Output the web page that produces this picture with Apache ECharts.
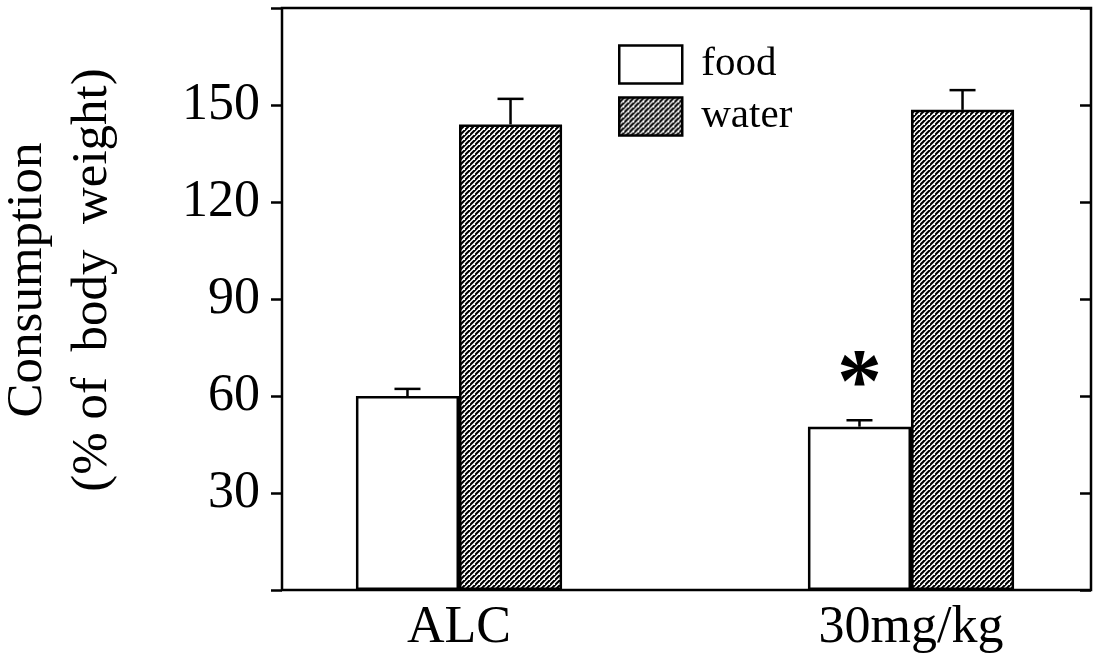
<!DOCTYPE html>
<html>
<head>
<meta charset="utf-8">
<script src="https://cdn.jsdelivr.net/npm/echarts@6/dist/echarts.min.js"></script>
<style>html,body{margin:0;padding:0;background:#fff;}#c{width:1098px;height:663px;}</style>
</head>
<body>
<div id="c"></div>
<script>
const categories = ['ALC', '30mg/kg'];
const seriesNames = ['food', 'water'];
const foodMean = [60, 50.5];
const foodErr = [2.2, 2];
const waterMean = [144, 148.5];
const waterErr = [7.9, 6.1];
const significant = [false, true];
const yTicks = [30, 60, 90, 120, 150];

const FONT = 'Liberation Serif';
const BAR_FRAC = 0.228;

function hatch() {
  const s = 5;
  const c = document.createElement('canvas');
  c.width = s; c.height = s;
  const g = c.getContext('2d');
  g.fillStyle = '#fff'; g.fillRect(0, 0, s, s);
  g.strokeStyle = '#000'; g.lineWidth = 2.1;
  g.beginPath();
  g.moveTo(-1, s + 1); g.lineTo(s + 1, -1);
  g.moveTo(-1 - s, s + 1); g.lineTo(1, -1);
  g.moveTo(s - 1, 2 * s + 1); g.lineTo(2 * s + 1, s - 1);
  g.stroke();
  return c;
}
const hatchColor = { image: hatch(), repeat: 'repeat' };

const errData = [];
categories.forEach((c, i) => {
  errData.push([i, foodMean[i], foodErr[i], -1]);
  errData.push([i, waterMean[i], waterErr[i], 1]);
});

const foodData = foodMean.map((v, i) => significant[i] ? {
  value: v,
  label: { show: true, formatter: '*', position: 'top', distance: -6,
    fontSize: 90, fontWeight: 'bold', fontFamily: FONT, color: '#000' }
} : v);

const chart = echarts.init(document.getElementById('c'), null, { renderer: 'canvas' });
chart.setOption({
  animation: false,
  backgroundColor: '#fff',
  grid: [
    { left: 282, right: 7, top: 8, bottom: 73, show: true, borderColor: '#000', borderWidth: 2.5,
      backgroundColor: 'transparent', outerBoundsMode: 'none', containLabel: false },
    { left: 233, width: 904, top: 8, bottom: 73, show: false, outerBoundsMode: 'none', containLabel: false }
  ],
  legend: {
    data: seriesNames,
    orient: 'vertical',
    left: 618, top: 44, padding: 0,
    icon: 'rect',
    itemWidth: 63, itemHeight: 38, itemGap: 11,
    textStyle: { fontFamily: FONT, fontSize: 41, color: '#000', padding: [0, 0, 0, 14] },
    itemStyle: { borderColor: '#000', borderWidth: 2.5 }
  },
  xAxis: [
    { type: 'category', gridIndex: 0, data: categories, axisLine: { show: false }, axisTick: { show: false }, axisLabel: { show: false } },
    { type: 'category', gridIndex: 1, data: categories, axisLine: { show: false }, axisTick: { show: false },
      axisLabel: { fontFamily: FONT, fontSize: 52, color: '#000', margin: 12 } }
  ],
  yAxis: [
    { type: 'value', gridIndex: 0, min: 0, max: 180, interval: 30, splitLine: { show: false },
      axisLine: { show: false },
      axisTick: { show: true, length: 11, lineStyle: { color: '#000', width: 2.5 } },
      axisLabel: { fontFamily: FONT, fontSize: 52, color: '#000', margin: 22,
        formatter: v => yTicks.indexOf(v) >= 0 ? String(v) : '' },
      name: 'Consumption\n(% of  body  weight)',
      nameLocation: 'middle', nameRotate: 90, nameGap: 157,
      nameTextStyle: { fontFamily: FONT, fontSize: 51, lineHeight: 65, color: '#000', padding: [0, 0, 0, 38] }
    },
    { type: 'value', gridIndex: 0, min: 0, max: 180, interval: 30, splitLine: { show: false },
      axisLine: { show: false }, axisLabel: { show: false },
      axisTick: { show: true, inside: true, length: 11, lineStyle: { color: '#000', width: 2.5 } } },
    { type: 'value', gridIndex: 1, min: 0, max: 180, interval: 30, show: false }
  ],
  series: [
    { name: 'food', type: 'bar', xAxisIndex: 1, yAxisIndex: 2, data: foodData,
      barWidth: (BAR_FRAC * 100) + '%', barGap: '0%',
      itemStyle: { color: '#fff', borderColor: '#000', borderWidth: 2.5 } },
    { name: 'water', type: 'bar', xAxisIndex: 1, yAxisIndex: 2, data: waterMean,
      barWidth: (BAR_FRAC * 100) + '%', barGap: '0%',
      itemStyle: { color: hatchColor, borderColor: '#000', borderWidth: 2.5 } },
    { name: 'err', type: 'custom', xAxisIndex: 1, yAxisIndex: 2, data: errData, z: 5,
      renderItem: function (params, api) {
        const band = api.size([1, 0])[0];
        const half = band * BAR_FRAC / 2;
        const base = api.coord([api.value(0), api.value(1)]);
        const top = api.coord([api.value(0), api.value(1) + api.value(2)]);
        const x = base[0] + api.value(3) * half;
        const st = { stroke: '#000', lineWidth: 2.5 };
        return { type: 'group', children: [
          { type: 'line', shape: { x1: x, y1: base[1], x2: x, y2: top[1] }, style: st },
          { type: 'line', shape: { x1: x - 13, y1: top[1], x2: x + 13, y2: top[1] }, style: st }
        ] };
      }
    }
  ]
});
</script>
</body>
</html>
